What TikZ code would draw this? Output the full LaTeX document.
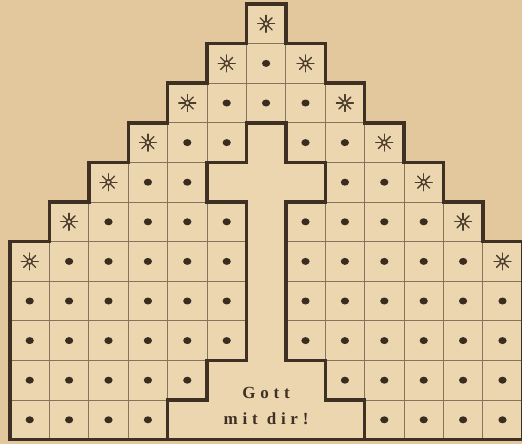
\documentclass[tikz,border=0pt]{standalone}
\usepackage{fontspec}
\newfontfamily\mottofont[LetterSpace=28]{Liberation Serif}
\definecolor{paper}{HTML}{E3C89E}
\definecolor{cellbg}{HTML}{EBD6B0}
\definecolor{ink}{HTML}{3E3124}
\definecolor{thinc}{HTML}{85735C}
\definecolor{dotc}{HTML}{3A2C1E}
\definecolor{starc}{HTML}{4C3D2D}
\newcommand\burst[2]{%
  \begin{scope}[shift={(#1,#2)}]
    \foreach \a in {0,45,...,315} \draw[starc,line width=1.3pt,line cap=round] (\a:3.2pt) -- (\a:8.5pt);
    \draw[starc,fill=cellbg,line width=1.6pt] (0,0) circle (2.5pt);
  \end{scope}}
\begin{document}
\begin{tikzpicture}[x=39.4pt,y=-39.6pt,
  border/.style={draw=ink,line width=3.4pt,line join=miter},
  gridline/.style={draw=thinc,line width=0.8pt},
  dotmark/.style={fill=dotc}]
\fill[paper] ([shift={(-10pt,4pt)}]0,0) rectangle ([shift={(512pt,-440pt)}]0,0);
\path[use as bounding box] ([shift={(-10pt,4pt)}]0,0) rectangle ([shift={(512pt,-440pt)}]0,0);
% cell area
\fill[cellbg] (6,0) -- (7,0) -- (7,1) -- (8,1) -- (8,2) -- (9,2) -- (9,3) -- (10,3) -- (10,4) -- (11,4) -- (11,5) -- (12,5) -- (12,6) -- (13,6) -- (13,11) -- (0,11) -- (0,6) -- (1,6) -- (1,5) -- (2,5) -- (2,4) -- (3,4) -- (3,3) -- (4,3) -- (4,2) -- (5,2) -- (5,1) -- (6,1) -- cycle;
% thin grid
\begin{scope}
  \clip (6,0) -- (7,0) -- (7,1) -- (8,1) -- (8,2) -- (9,2) -- (9,3) -- (10,3) -- (10,4) -- (11,4) -- (11,5) -- (12,5) -- (12,6) -- (13,6) -- (13,11) -- (0,11) -- (0,6) -- (1,6) -- (1,5) -- (2,5) -- (2,4) -- (3,4) -- (3,3) -- (4,3) -- (4,2) -- (5,2) -- (5,1) -- (6,1) -- cycle;
  \foreach \i in {1,...,12} \draw[gridline] (\i,0) -- (\i,11);
  \foreach \j in {1,...,10} \draw[gridline] (0,\j) -- (13,\j);
\end{scope}
% cross cut-out
\fill[cellbg] (6,3) -- (7,3) -- (7,4) -- (8,4) -- (8,5) -- (7,5) -- (7,9) -- (8,9) -- (8,10) -- (9,10) -- (9,11) -- (4,11) -- (4,10) -- (5,10) -- (5,9) -- (6,9) -- (6,5) -- (5,5) -- (5,4) -- (6,4) -- cycle;
% marks
\foreach \r in {0,...,10} {
  \pgfmathtruncatemacro\lo{max(6-\r,0)}
  \pgfmathtruncatemacro\hi{min(6+\r,12)}
  \foreach \c in {\lo,...,\hi} {
    \pgfmathtruncatemacro\iscut{((\r==3)&&(\c==6)) || ((\r==4)&&(\c>=5)&&(\c<=7)) || ((\r>=5)&&(\r<=8)&&(\c==6)) || ((\r==9)&&(\c>=5)&&(\c<=7)) || ((\r==10)&&(\c>=4)&&(\c<=8))}
    \pgfmathtruncatemacro\isburst{(\r<=6) && ((\c==\lo) || (\c==\hi))}
    \ifnum\iscut=0
      \ifnum\isburst=1
        \burst{\c+0.5}{\r+0.5}
      \else
        \fill[dotmark] (\c+0.5,\r+0.5) ellipse [x radius=4.1pt, y radius=3.5pt];
      \fi
    \fi
  }
}
% thick borders
\draw[border] (6,0) -- (7,0) -- (7,1) -- (8,1) -- (8,2) -- (9,2) -- (9,3) -- (10,3) -- (10,4) -- (11,4) -- (11,5) -- (12,5) -- (12,6) -- (13,6) -- (13,11) -- (0,11) -- (0,6) -- (1,6) -- (1,5) -- (2,5) -- (2,4) -- (3,4) -- (3,3) -- (4,3) -- (4,2) -- (5,2) -- (5,1) -- (6,1) -- cycle;
\draw[border] (6,3) -- (7,3) -- (7,4) -- (8,4) -- (8,5) -- (7,5) -- (7,9) -- (8,9) -- (8,10) -- (9,10) -- (9,11) -- (4,11) -- (4,10) -- (5,10) -- (5,9) -- (6,9) -- (6,5) -- (5,5) -- (5,4) -- (6,4) -- cycle;
% motto
\node[font=\mottofont\bfseries\fontsize{17}{26}\selectfont, align=center, text=ink, inner sep=0pt] (motto) at (6.5,10.15) {Gott\\mit dir!};
\end{tikzpicture}
\end{document}
